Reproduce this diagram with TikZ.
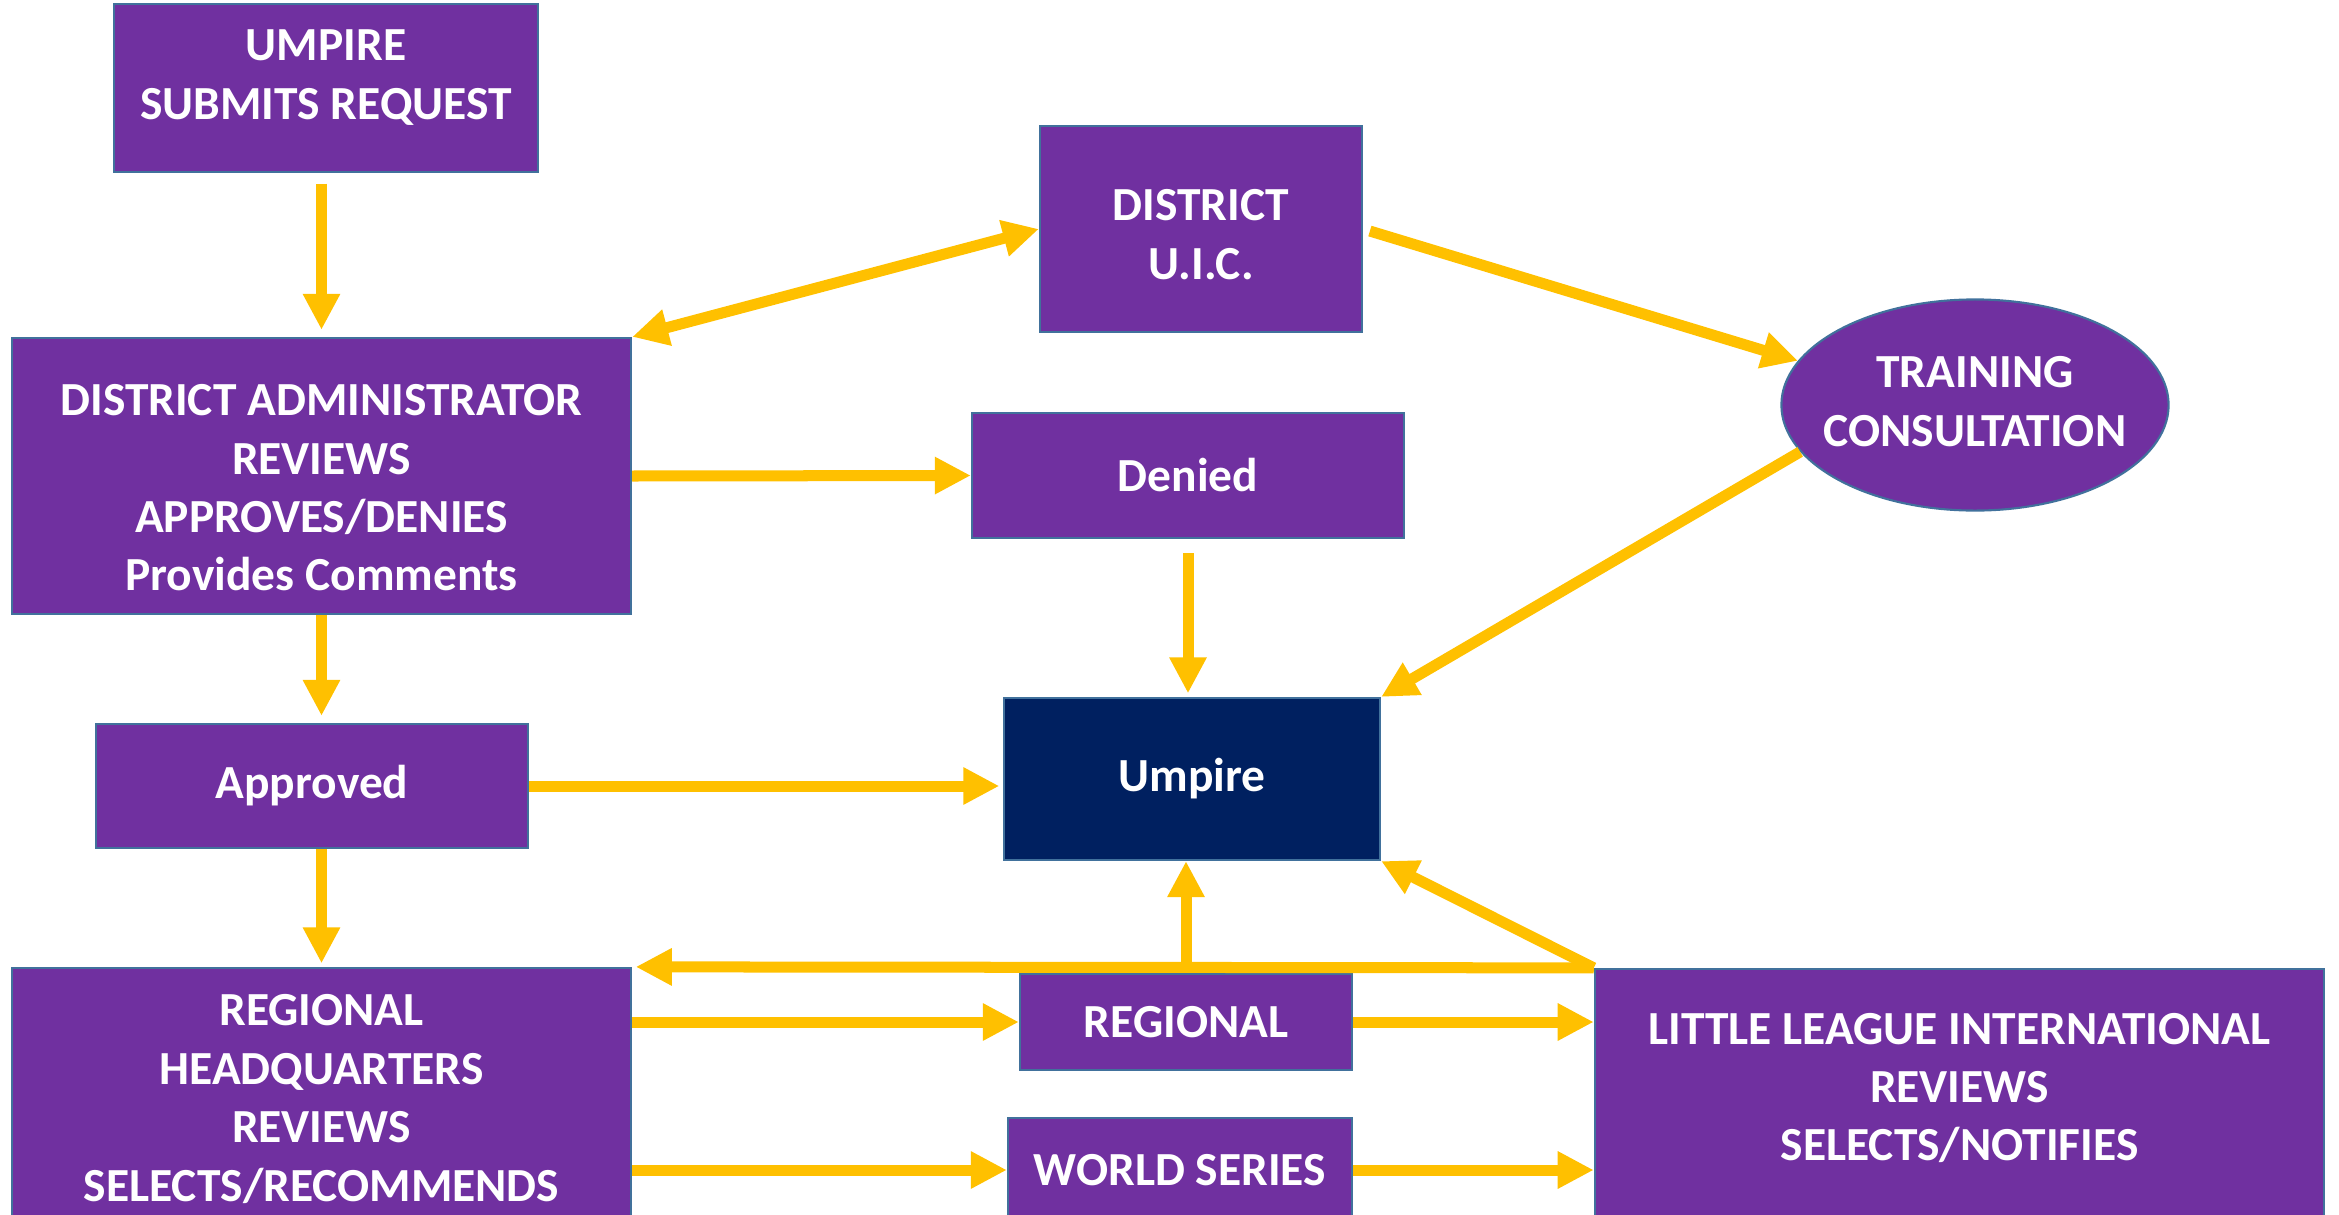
\documentclass[tikz,border=0pt]{standalone}
\usepackage{fontspec}
\setmainfont{Carlito}
\usetikzlibrary{arrows.meta,shapes.geometric}
\definecolor{llpurple}{HTML}{7030A0}
\definecolor{llnavy}{HTML}{002060}
\definecolor{llgold}{HTML}{FFC000}
\definecolor{lledge}{HTML}{41719C}
\begin{document}
\begin{tikzpicture}[x=0.01cm, y=-0.01cm,
    box/.style={draw=lledge, line width=0.6pt, fill=llpurple, text=white,
      font=\fontsize{13.5}{16.6}\selectfont\bfseries, align=center, inner sep=0pt},
    flow/.style={llgold, line width=0.11cm, -{Triangle[length=0.36cm,width=0.35cm]}},
    both/.style={flow, {Triangle[length=0.36cm,width=0.35cm]}-{Triangle[length=0.36cm,width=0.35cm]}}]
  \clip (0,0) rectangle (2339,1215);

  % Boxes
  \node[box, minimum width=4.24cm, minimum height=1.68cm] (submit) at (326,88)
    {UMPIRE\\SUBMITS REQUEST\rule[-7.6pt]{0pt}{0pt}};
  \node[box, minimum width=6.19cm, minimum height=2.76cm] (admin) at (321.5,476)
    {\rule{0pt}{15.6pt}DISTRICT ADMINISTRATOR\\REVIEWS\\APPROVES/DENIES\\Provides Comments};
  \node[box, minimum width=3.22cm, minimum height=2.06cm] (uic) at (1201,229)
    {\rule{0pt}{12.1pt}DISTRICT\\U.I.C.};
  \node[box, minimum width=4.32cm, minimum height=1.25cm] (denied) at (1188,475.5)
    {Denied};
  \node[box, ellipse, inner xsep=-0.3cm, minimum width=3.87cm, minimum height=2.11cm] (training) at (1975,405)
    {TRAINING\\CONSULTATION\rule[-2pt]{0pt}{0pt}};
  \node[box, minimum width=4.32cm, minimum height=1.24cm] (approved) at (312,786)
    {Approved};
  \node[box, fill=llnavy, minimum width=3.76cm, minimum height=1.62cm] (umpire) at (1192,779)
    {Umpire};
  \node[box, minimum width=6.19cm, minimum height=2.62cm] (hq) at (321.5,1099)
    {REGIONAL\\HEADQUARTERS\\REVIEWS\\SELECTS/RECOMMENDS};
  \node[box, minimum width=3.32cm, minimum height=0.96cm] (regional) at (1186,1022)
    {REGIONAL};
  \node[box, minimum width=3.44cm, minimum height=1.04cm] (ws) at (1180,1170)
    {WORLD SERIES};
  \node[box, minimum width=7.29cm, minimum height=2.70cm] (lli) at (1959.5,1104)
    {LITTLE LEAGUE INTERNATIONAL\\REVIEWS\\SELECTS/NOTIFIES\rule[-9.7pt]{0pt}{0pt}};

  % District level
  \draw[flow, shorten <=3pt, shorten >=2pt] (admin.north |- submit.south) -- (admin.north);
  \draw[both] (admin.north east) -- (uic.west);
  \draw[flow, shorten <=2pt] (uic.east) -- (training.166);
  \draw[flow] (admin.east) -- (denied.west);
  \draw[flow, shorten <=4pt, shorten >=1pt] (denied.south) -- (denied.south |- umpire.north);
  \draw[flow] (training.195) -- (umpire.north east);
  \draw[flow, shorten >=2pt] (admin.south) -- (admin.south |- approved.north);
  \draw[flow, shorten >=1pt] (approved.east) -- (approved.east -| umpire.west);

  % Regional level
  \draw[flow, shorten >=1pt] (hq.north |- approved.south) -- (hq.north);
  \draw[flow, shorten >=1pt] (lli.north west) -- (hq.north east);
  \draw[flow] (regional.north) -- (regional.north |- umpire.south);
  \draw[flow] (lli.north west) -- (umpire.south east);
  \draw[flow] (regional.west -| hq.east) -- (regional.west);
  \draw[flow] (ws.west -| hq.east) -- (ws.west);
  \draw[flow] (regional.east) -- (regional.east -| lli.west);
  \draw[flow] (ws.east) -- (ws.east -| lli.west);
\end{tikzpicture}
\end{document}
